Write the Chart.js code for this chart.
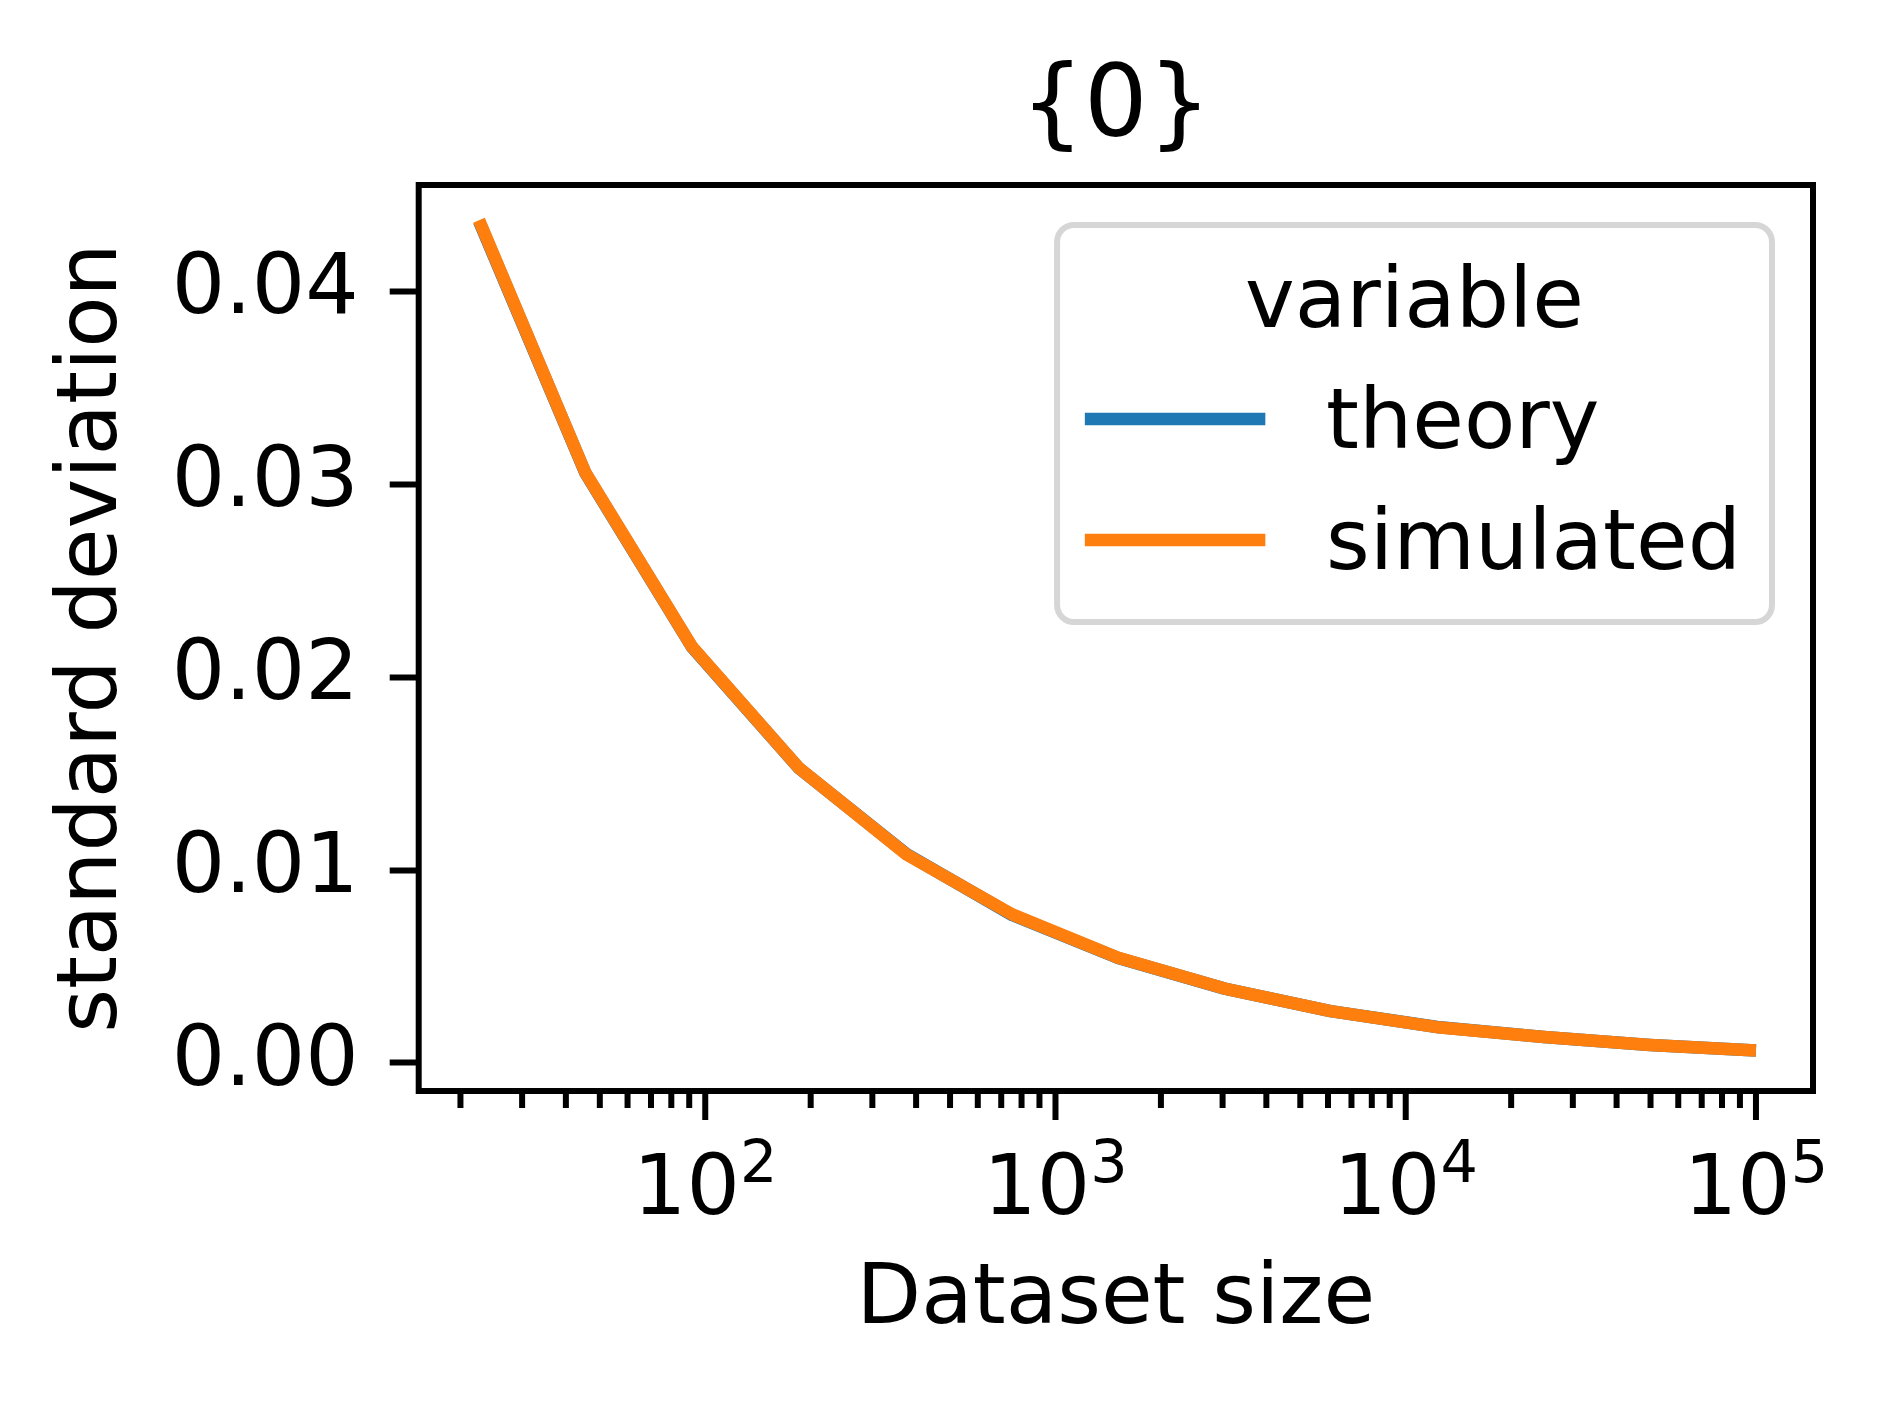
<!DOCTYPE html>
<html>
<head>
<meta charset="utf-8">
<title>standard deviation vs dataset size</title>
<script src="https://cdn.jsdelivr.net/npm/chart.js@4.4.0/dist/chart.umd.min.js"></script>
<style>
    html, body { margin: 0; padding: 0; background: #fff; }
    #wrap { width: 1886px; height: 1405px; position: relative; }
</style>
</head>
<body>
<div id="wrap"><canvas id="stdChart"></canvas></div>
<script>
// Data
const datasetSizes = [22.6, 45.5, 91.5, 185, 376, 752, 1510, 3040, 6100, 12300, 24800, 49800, 100000];
const theory = [0.04365, 0.03058, 0.02158, 0.01529, 0.01083, 0.00767, 0.00544, 0.00385, 0.00268, 0.00186, 0.00134, 0.00093, 0.00064];
const simulated = [0.0437, 0.0306, 0.0216, 0.0153, 0.0108, 0.0077, 0.00545, 0.00385, 0.00268, 0.00185, 0.00134, 0.00093, 0.00064];

const seriesNames = ['theory', 'simulated'];
const seriesColors = ['#1f77b4', '#ff7f0e'];

// Axes
const xMajorTicks = [100, 1000, 10000, 100000];
const xTickExponents = ['2', '3', '4', '5'];
const xMinorTicks = [20, 30, 40, 50, 60, 70, 80, 90,
    200, 300, 400, 500, 600, 700, 800, 900,
    2000, 3000, 4000, 5000, 6000, 7000, 8000, 9000,
    20000, 30000, 40000, 50000, 60000, 70000, 80000, 90000];
const yTicks = [0, 0.01, 0.02, 0.03, 0.04];
const xRange = [15.2, 145500];
const yRange = [-0.00146, 0.04553];

const FONT = 'DejaVu Sans';
const FS = 84;          // 10pt at this resolution
const TICK_W = 6;
const MAJOR_LEN = 29;
const MINOR_LEN = 17;

Chart.defaults.font.family = FONT;
Chart.defaults.color = '#000';

// Frame, x ticks (major/minor) and mathtext-like x labels
const axesPlugin = {
    id: 'axesFrame',
    afterDraw(chart) {
        const { ctx, chartArea: ca } = chart;
        const x = chart.scales.x;
        ctx.save();
        ctx.strokeStyle = '#000';
        ctx.fillStyle = '#000';
        ctx.lineWidth = TICK_W;
        ctx.lineCap = 'butt';

        x.ticks.forEach(t => {
            const px = x.getPixelForValue(t.value);
            const len = t.major ? MAJOR_LEN : MINOR_LEN;
            ctx.beginPath();
            ctx.moveTo(px, ca.bottom);
            ctx.lineTo(px, ca.bottom + len);
            ctx.stroke();
        });

        // labels like 10^n
        ctx.textBaseline = 'alphabetic';
        ctx.textAlign = 'left';
        xMajorTicks.forEach((v, i) => {
            const px = x.getPixelForValue(v);
            ctx.font = `${FS}px "${FONT}"`;
            const wb = ctx.measureText('10').width;
            ctx.font = `${FS * 0.7}px "${FONT}"`;
            const ws = ctx.measureText(xTickExponents[i]).width;
            const x0 = px - (wb + ws) / 2;
            ctx.font = `${FS}px "${FONT}"`;
            ctx.fillText('10', x0, ca.bottom + 123);
            ctx.font = `${FS * 0.7}px "${FONT}"`;
            ctx.fillText(xTickExponents[i], x0 + wb, ca.bottom + 91);
        });

        ctx.strokeRect(ca.left, ca.top, ca.right - ca.left, ca.bottom - ca.top);
        ctx.restore();
    }
};

// matplotlib style legend in the upper right of the axes
const legendPlugin = {
    id: 'mplLegend',
    afterDraw(chart) {
        const { ctx, chartArea: ca } = chart;
        ctx.save();
        ctx.font = `${FS}px "${FONT}"`;
        const textW = Math.max(...seriesNames.map(n => ctx.measureText(n).width));
        const pad = 34, handle = 168, gap = 67;
        const w = pad + handle + gap + textW + pad;
        const h = 397;
        const right = ca.right - 41;
        const top = ca.top + 40;
        const left = right - w + 3;

        ctx.fillStyle = 'rgba(255,255,255,0.8)';
        ctx.strokeStyle = '#d6d6d6';
        ctx.lineWidth = 6;
        ctx.beginPath();
        ctx.roundRect(left, top, right - left, h, 17);
        ctx.fill();
        ctx.stroke();

        ctx.fillStyle = '#000';
        ctx.textBaseline = 'alphabetic';
        ctx.textAlign = 'center';
        ctx.fillText('variable', (left + right) / 2, top + 102);

        ctx.textAlign = 'left';
        const rows = [223, 344];
        chart.data.datasets.forEach((ds, i) => {
            const base = top + rows[i];
            ctx.strokeStyle = ds.borderColor;
            ctx.lineWidth = ds.borderWidth;
            ctx.lineCap = 'square';
            ctx.beginPath();
            ctx.moveTo(left + pad, base - 29);
            ctx.lineTo(left + pad + handle, base - 29);
            ctx.stroke();
            ctx.fillText(ds.label, left + pad + handle + gap, base);
        });
        ctx.restore();
    }
};

function makeSeries(values) {
    return datasetSizes.map((n, i) => ({ x: n, y: values[i] }));
}

const ctx = document.getElementById('stdChart').getContext('2d');
const stdChart = new Chart(ctx, {
    type: 'line',
    data: {
        datasets: [{
            label: seriesNames[0],
            data: makeSeries(theory),
            borderColor: seriesColors[0],
            backgroundColor: seriesColors[0],
            borderWidth: 12.5,
            pointRadius: 0,
            borderCapStyle: 'butt',
            borderJoinStyle: 'round',
            order: 1
        }, {
            label: seriesNames[1],
            data: makeSeries(simulated),
            borderColor: seriesColors[1],
            backgroundColor: seriesColors[1],
            borderWidth: 12.5,
            pointRadius: 0,
            borderCapStyle: 'butt',
            borderJoinStyle: 'round',
            order: 0
        }]
    },
    options: {
        responsive: true,
        maintainAspectRatio: false,
        animation: false,
        devicePixelRatio: 1,
        layout: { padding: { left: 0, right: 73, top: 0, bottom: 0 } },
        scales: {
            x: {
                type: 'logarithmic',
                position: 'bottom',
                min: xRange[0],
                max: xRange[1],
                afterBuildTicks: (scale) => {
                    scale.ticks = xMinorTicks.map(v => ({ value: v, major: false }))
                        .concat(xMajorTicks.map(v => ({ value: v, major: true })))
                        .sort((a, b) => a.value - b.value);
                },
                afterFit: (scale) => { scale.height = 314; },
                ticks: { autoSkip: false, maxRotation: 0, callback: () => '' },
                grid: { display: false, drawTicks: false },
                border: { display: false },
                title: {
                    display: true,
                    text: 'Dataset size',
                    font: { size: FS },
                    padding: { top: 0, bottom: 53.6 }
                }
            },
            y: {
                type: 'linear',
                position: 'left',
                min: yRange[0],
                max: yRange[1],
                afterBuildTicks: (scale) => {
                    scale.ticks = yTicks.map(v => ({ value: v }));
                },
                afterFit: (scale) => { scale.width = 418.7; },
                ticks: {
                    autoSkip: false,
                    padding: 31,
                    font: { size: FS },
                    callback: (v) => Number(v).toFixed(2)
                },
                grid: {
                    drawOnChartArea: false,
                    drawTicks: true,
                    tickLength: MAJOR_LEN,
                    tickWidth: TICK_W,
                    tickColor: '#000'
                },
                border: { display: false },
                title: {
                    display: true,
                    text: 'standard deviation',
                    font: { size: FS },
                    padding: { top: 43.9, bottom: 0 }
                }
            }
        },
        plugins: {
            legend: { display: false },
            tooltip: { enabled: false },
            title: {
                display: true,
                text: '{0}',
                fullSize: false,
                color: '#000',
                font: { size: 100, weight: 'normal' },
                padding: { top: 50.4, bottom: 14.6 }
            }
        }
    },
    plugins: [axesPlugin, legendPlugin]
});
</script>
</body>
</html>
